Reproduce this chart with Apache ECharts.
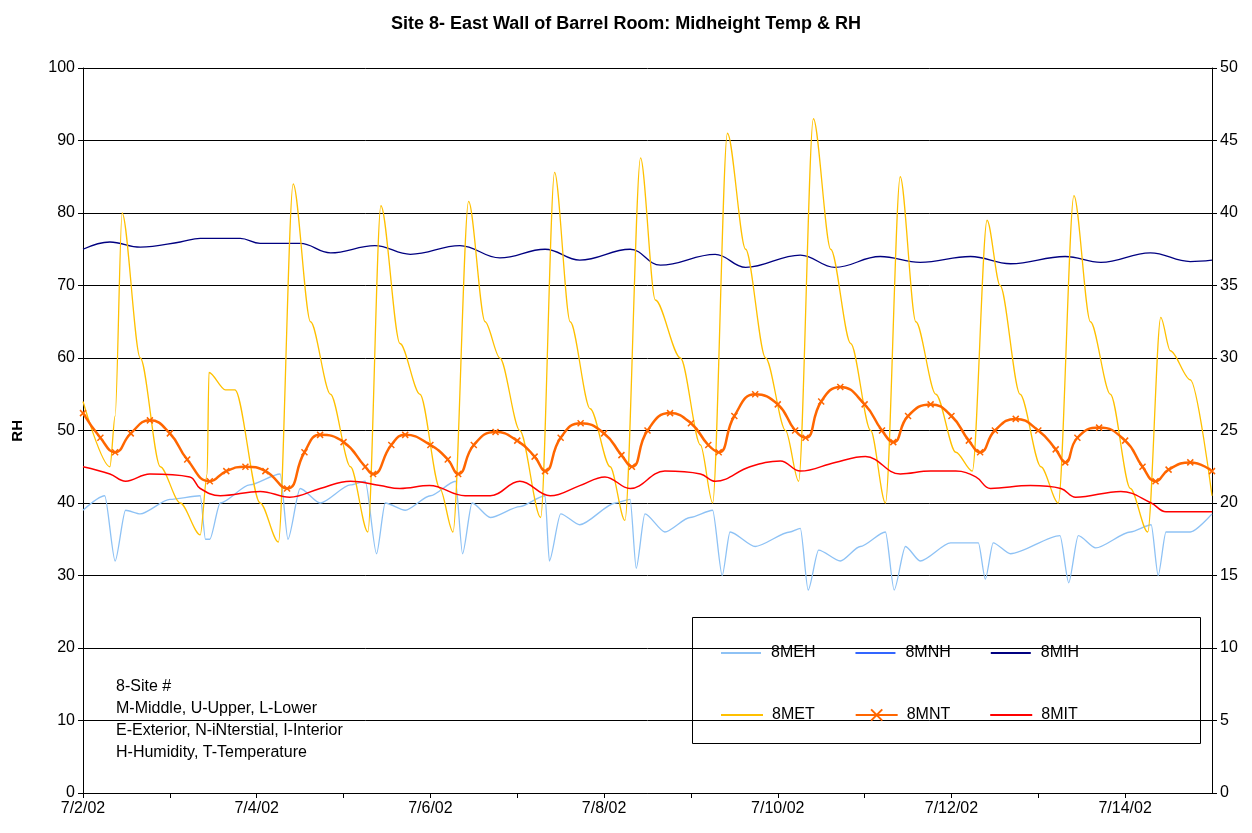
<!DOCTYPE html>
<html>
<head>
<meta charset="utf-8">
<script src="https://cdn.jsdelivr.net/npm/echarts@6/dist/echarts.min.js"></script>
<style>html,body{margin:0;padding:0;background:#fff}#main{width:1252px;height:833px}</style>
</head>
<body>
<div id="main"></div>
<script>
// x = days after 7/2/02, y = value
var dateLabels = ['7/2/02','7/3/02','7/4/02','7/5/02','7/6/02','7/7/02','7/8/02','7/9/02','7/10/02','7/11/02','7/12/02','7/13/02','7/14/02','7/15/02'];

// RH series (left axis)
var meh = [[0,39],[0.25,41],[0.37,32],[0.49,39],[0.66,38.5],[1.0,40.5],[1.35,41],[1.41,35],[1.46,35],[1.58,40],[1.92,42.5],[2.27,44],[2.36,35],[2.5,42],[2.73,40],[3.08,42.5],[3.25,43],[3.38,33],[3.48,40],[3.71,39],[4.0,41],[4.29,43],[4.37,33],[4.48,40],[4.69,38],[5.03,39.5],[5.32,41],[5.37,32],[5.5,38.5],[5.72,37],[6.13,40],[6.3,40.5],[6.37,31],[6.47,38.5],[6.7,36],[6.99,38],[7.25,39],[7.36,30],[7.45,36],[7.74,34],[8.14,36],[8.26,36.5],[8.35,28],[8.47,33.5],[8.72,32],[8.95,34],[9.24,36],[9.34,28],[9.47,34],[9.64,32],[9.99,34.5],[10.31,34.5],[10.39,29.5],[10.48,34.5],[10.68,33],[11.25,35.5],[11.35,29],[11.46,35.5],[11.66,33.8],[12.06,36],[12.3,37],[12.38,30],[12.47,36],[12.75,36],[13,38.5]];
var mnh = [];
var mih = [[0,75],[0.31,76],[0.66,75.3],[1.12,76],[1.35,76.5],[1.81,76.5],[2.04,75.8],[2.5,75.8],[2.85,74.5],[3.36,75.5],[3.77,74.3],[4.34,75.5],[4.8,73.8],[5.32,75],[5.72,73.5],[6.3,75],[6.65,72.8],[7.28,74.3],[7.63,72.5],[8.26,74.2],[8.66,72.5],[9.18,74],[9.64,73.2],[10.22,74],[10.68,73],[11.31,74],[11.72,73.2],[12.29,74.5],[12.75,73.3],[13,73.5]];

// Temperature series (right axis)
var met = [[0,27],[0.31,22.5],[0.37,26],[0.45,40],[0.66,30],[0.89,22.5],[1.12,20],[1.35,17.8],[1.43,22],[1.45,29],[1.64,27.8],[1.75,27.8],[2.04,20],[2.25,17.3],[2.42,42],[2.62,32.5],[2.85,27.5],[3.08,22.5],[3.28,18],[3.43,40.5],[3.65,31],[3.88,27.5],[4.11,21],[4.26,18],[4.44,40.8],[4.63,32.5],[4.80,30],[5.03,25],[5.27,19],[5.43,42.8],[5.61,32.5],[5.84,26.5],[6.07,22.5],[6.24,18.8],[6.42,43.8],[6.59,34],[6.88,30],[7.11,24],[7.25,20],[7.42,45.5],[7.63,37.5],[7.86,30],[8.09,25],[8.24,21.5],[8.41,46.5],[8.61,37.5],[8.84,31],[9.07,25],[9.24,20],[9.41,42.5],[9.59,32.5],[9.82,27.5],[10.05,23.5],[10.24,22.2],[10.41,39.5],[10.56,35],[10.79,27.5],[11.03,22.5],[11.23,20],[11.41,41.2],[11.60,32.5],[11.83,27.5],[12.06,21],[12.26,18],[12.41,32.8],[12.52,30.5],[12.75,28.5],[13.0,20.5]];
var mnt = [[0,26.2],[0.2,24.5],[0.37,23.5],[0.55,24.8],[0.77,25.7],[1.0,24.8],[1.2,23],[1.46,21.5],[1.65,22.2],[1.87,22.5],[2.1,22.2],[2.35,21],[2.55,23.5],[2.73,24.7],[3.0,24.2],[3.25,22.5],[3.34,22],[3.55,24],[3.71,24.7],[4.0,24],[4.2,23],[4.32,22],[4.5,24],[4.75,24.9],[5.0,24.3],[5.2,23.2],[5.32,22.2],[5.5,24.5],[5.73,25.5],[6.0,24.8],[6.2,23.3],[6.32,22.5],[6.5,25],[6.76,26.2],[7.0,25.5],[7.2,24],[7.32,23.5],[7.5,26],[7.74,27.5],[8.0,26.8],[8.2,25],[8.32,24.5],[8.5,27],[8.72,28],[9.0,26.8],[9.2,25],[9.33,24.2],[9.5,26],[9.76,26.8],[10.0,26],[10.2,24.3],[10.33,23.5],[10.5,25],[10.74,25.8],[11.0,25],[11.2,23.7],[11.31,22.8],[11.45,24.5],[11.7,25.2],[12.0,24.3],[12.2,22.5],[12.35,21.5],[12.5,22.3],[12.75,22.8],[13.0,22.2]];
var mit = [[0,22.5],[0.31,22],[0.49,21.5],[0.77,22],[1.23,21.8],[1.35,21],[1.58,20.5],[2.04,20.8],[2.38,20.4],[2.73,21],[3.08,21.5],[3.42,21.2],[3.65,21],[3.99,21.2],[4.4,20.5],[4.69,20.5],[5.03,21.5],[5.38,20.5],[5.72,21.2],[6.01,21.8],[6.3,21],[6.7,22.2],[7.11,22],[7.28,21.5],[7.68,22.5],[8.03,22.9],[8.26,22.2],[8.66,22.8],[9.01,23.2],[9.41,22],[9.76,22.2],[10.05,22.2],[10.28,21.8],[10.45,21],[10.91,21.2],[11.26,21],[11.43,20.4],[11.95,20.8],[12.3,20],[12.47,19.4],[13.0,19.4]];

var myChart = echarts.init(document.getElementById('main'));
var font = 'Liberation Sans, Arial, sans-serif';
var lab = {color:'#000', fontSize:16, fontFamily:font};
var lineIcon = 'path://M0,0H40V2H0Z';

var option = {
    animation: false,
    textStyle: {fontFamily: font},
    title: {text:'Site 8- East Wall of Barrel Room: Midheight Temp & RH', left:'center', top:10,
        textStyle:{fontSize:18, fontWeight:'bold', color:'#000', fontFamily:font}},
    grid: {left:83, right:40, top:68, bottom:40},
    legend: [
        {data:['8MEH','8MNH','8MIH'], left:716, top:640, itemWidth:42, itemHeight:2, itemGap:40, icon:lineIcon,
         textStyle:{fontSize:16, color:'#000', width:62, padding:[0,0,0,4]}},
        {data:[{name:'8MET', icon:lineIcon},{name:'8MNT'},{name:'8MIT', icon:lineIcon}], left:716, top:702, itemWidth:42, itemGap:40,
         textStyle:{fontSize:16, color:'#000', width:62, padding:[0,0,0,4]}}
    ],
    graphic: [
        {type:'rect', left:692, top:617, shape:{width:508, height:126}, style:{fill:'#fff', stroke:'#000', lineWidth:1}, z:-1},
        {type:'text', left:112, top:674, style:{text:'8-Site #\nM-Middle, U-Upper, L-Lower\nE-Exterior, N-iNterstial, I-Interior\nH-Humidity, T-Temperature',
            font:'16px '+font, fill:'#000', lineHeight:22, backgroundColor:'#fff', padding:[2,4]}},
        {type:'text', left:10, top:420, rotation:Math.PI/2, style:{text:'RH', font:'bold 15px '+font, fill:'#000'}}
    ],
    xAxis: {type:'value', min:0, max:13, interval:1,
        axisLine:{lineStyle:{color:'#000'}}, axisTick:{lineStyle:{color:'#000'}},
        splitLine:{show:false},
        axisLabel:Object.assign({formatter:function(v){return v%2===0?dateLabels[v]:'';}, showMaxLabel:false}, lab)},
    yAxis: [
        {type:'value', min:0, max:100, interval:10, axisLine:{show:true, lineStyle:{color:'#000'}}, axisTick:{show:true, lineStyle:{color:'#000'}},
         splitLine:{lineStyle:{color:'#000'}}, axisLabel:lab},
        {type:'value', min:0, max:50, interval:5, axisLine:{show:true, lineStyle:{color:'#000'}}, axisTick:{show:true, lineStyle:{color:'#000'}},
         splitLine:{show:false}, axisLabel:lab}
    ],
    series: [
        {name:'8MEH', type:'line', data:meh, yAxisIndex:0, symbol:'none', smooth:0.25, smoothMonotone:'x', lineStyle:{color:'#8ec2f5', width:1.3}, itemStyle:{color:'#8ec2f5'}},
        {name:'8MNH', type:'line', data:mnh, yAxisIndex:0, symbol:'none', lineStyle:{color:'#3366ff', width:1.3}, itemStyle:{color:'#3366ff'}},
        {name:'8MIH', type:'line', data:mih, yAxisIndex:0, symbol:'none', smooth:0.4, lineStyle:{color:'#000080', width:1.3}, itemStyle:{color:'#000080'}},
        {name:'8MET', type:'line', data:met, yAxisIndex:1, symbol:'none', smooth:0.3, smoothMonotone:'x', lineStyle:{color:'#ffc000', width:1.3}, itemStyle:{color:'#ffc000'}},
        {name:'8MNT', type:'line', data:mnt, yAxisIndex:1, smooth:0.5, symbol:'path://M0,0L10,10M10,0L0,10', symbolSize:6, showAllSymbol:true,
         lineStyle:{color:'#ff6600', width:2.5}, itemStyle:{color:'#ff6600', borderColor:'#ff6600', borderWidth:1.5}},
        {name:'8MIT', type:'line', data:mit, yAxisIndex:1, symbol:'none', smooth:0.4, lineStyle:{color:'#ff0000', width:1.5}, itemStyle:{color:'#ff0000'}}
    ]
};
myChart.setOption(option);
</script>
</body>
</html>
